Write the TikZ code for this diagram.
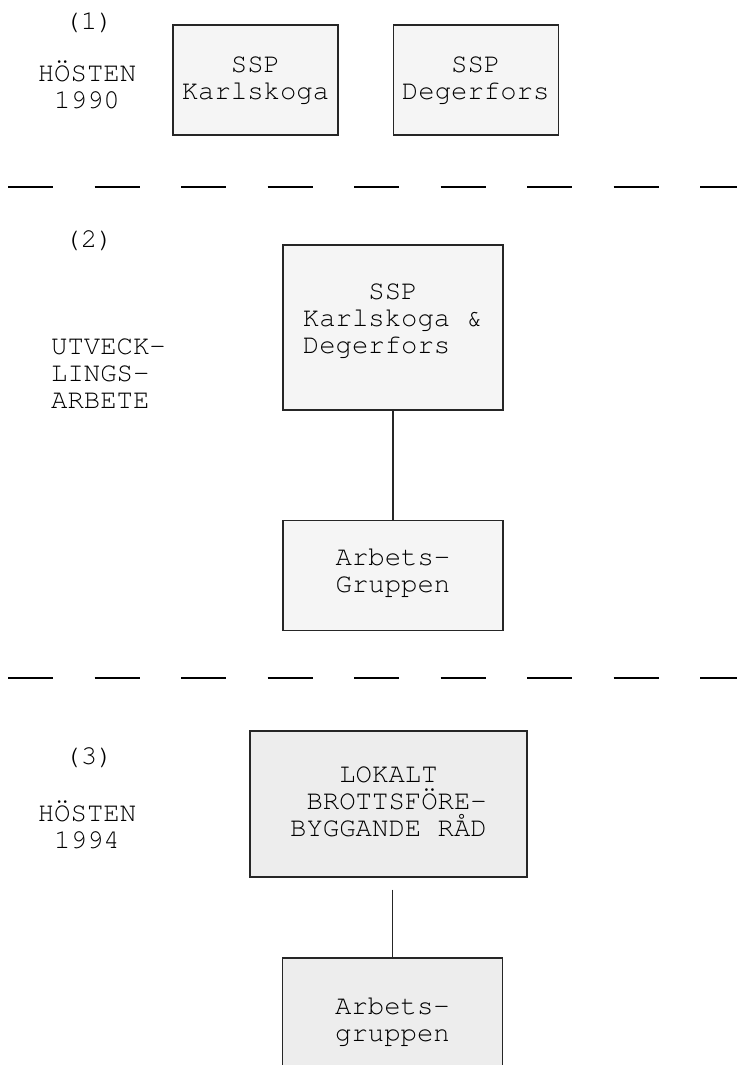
\documentclass[tikz,border=0pt]{standalone}
\usepackage[T1]{fontenc}
\renewcommand{\rmdefault}{pcr}
\usetikzlibrary{positioning}
\definecolor{boxgray}{gray}{0.96}
\definecolor{boxgraydark}{gray}{0.93}
\tikzset{
  stage/.style={draw=black!85, fill=boxgray, line width=1.2pt, align=center, inner sep=0pt},
  council/.style={stage, fill=boxgraydark},
  period/.style={align=center, inner sep=0pt},
  link/.style={line width=1.2pt, draw=black!85},
  divider/.style={line width=1.4pt, dash pattern=on 45pt off 41.5pt},
}

\begin{document}
\begin{tikzpicture}[x=1pt, y=-1pt, font=\fontsize{27.3}{27}\selectfont]
  \path[use as bounding box, clip] (0,0) rectangle (737,1065);

  % (1) hosten 1990
  \node[period] (p1) at (89,22) {(1)};
  \node[period] (t1) at (87,85) {H\"OSTEN\\1990};
  \node[stage, minimum width=165pt, minimum height=110pt] (karlskoga) at (255.5,80) {SSP\\Karlskoga};
  \node[stage, minimum width=165pt, minimum height=110pt, right=54pt of karlskoga] (degerfors) {SSP\\Degerfors};

  \foreach \y in {187,678}
    \draw[divider] (8,\y) -- (737,\y);

  % (2) utvecklingsarbete
  \node[period] (p2) at (89,240) {(2)};
  \node[period, align=left, anchor=west] (t2) at (51,373) {UTVECK-\\LINGS-\\ARBETE};
  \node[stage, align=left, minimum width=220pt, minimum height=165pt] (ssp) at (393,327.5)
    {\phantom{Karl}SSP\\Karlskoga \&\\Degerfors\rule[-20pt]{0pt}{0pt}};
  \node[stage, minimum width=220pt, minimum height=110pt, below=109pt of ssp] (grp2)
    {Arbets-\\Gruppen\rule[-10pt]{0pt}{0pt}};
  \draw[link] (ssp) -- (grp2);

  % (3) hosten 1994
  \node[period] (p3) at (89,757) {(3)};
  \node[period] (t3) at (87,825.5) {H\"OSTEN\\1994};
  \node[council, align=left, minimum width=277pt, minimum height=146pt] (brd) at (388.5,804)
    {\phantom{LOK}LOKALT\\\phantom{B}BROTTSF\"ORE-\\BYGGANDE R\AA D\rule[-6pt]{0pt}{0pt}};
  \node[council, minimum width=220pt, minimum height=127pt] (grp3) at (392.5,1021.5) {Arbets-\\gruppen};
  \draw[link, shorten <=12pt] (grp3.north |- brd.south) -- (grp3.north);
\end{tikzpicture}
\end{document}
